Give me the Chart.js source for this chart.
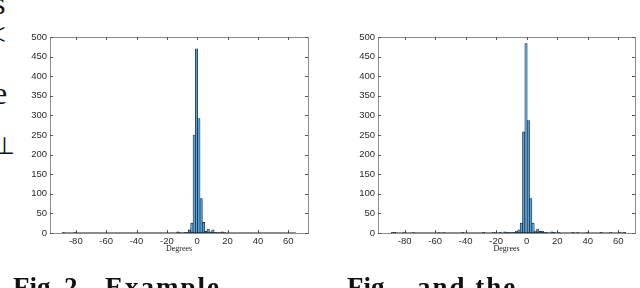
<!DOCTYPE html>
<html>
<head>
<meta charset="utf-8">
<title>Degree histograms</title>
<script src="https://cdn.jsdelivr.net/npm/chart.js@4.4.1/dist/chart.umd.min.js"></script>
<style>
    html, body { margin: 0; padding: 0; background: #fff; }
    #page { position: relative; width: 640px; height: 288px; overflow: hidden; }
    canvas { position: absolute; top: 0; }
    .frag { position: absolute; font-family: "Liberation Serif", serif; font-size: 32px; line-height: 32px; color: #111; }
    .cap { position: absolute; top: 274px; font-family: "Liberation Serif", serif; font-weight: bold; font-size: 27px; line-height: 27px; color: #111; white-space: nowrap; }
</style>
</head>
<body>
<div id="page">
    <span class="frag" style="left:-7px;top:-13px">s</span>
    <span class="frag" style="left:-12px;top:18px">&lt;</span>
    <span class="frag" style="left:-7px;top:77px">e</span>
    <span class="frag" style="left:-6px;top:130px;font-size:24px">&#8869;</span>

    <canvas id="left-hist" width="320" height="288" style="left:0"></canvas>
    <canvas id="right-hist" width="320" height="288" style="left:320px"></canvas>

    <span class="cap" style="left:13px">Fig. 2.</span>
    <span class="cap" style="left:105px;letter-spacing:2px">Example</span>
    <span class="cap" style="left:347px">Fig.</span>
    <span class="cap" style="left:417px;letter-spacing:2px">and the</span>
</div>

<script>
// 
// Histogram bins (centres, degrees) and counts.
// Only non-empty bins are listed, the data covers binStart to binEnd.
// 
var binStart = -89, binEnd = 65;

var leftDegrees = [-88.23, -80.53, -12.77, -11.23, -8.15, -6.61, -5.07, -3.53,
    -1.99, -0.45, 1.09, 2.63, 4.17, 5.71, 7.25, 8.79, 10.33, 11.87, 13.41,
    14.95, 16.49, 18.03];
var leftCounts = [1, 1, 3, 1, 2, 2, 8, 25,
    250, 470, 292, 88, 27, 4, 10, 3, 8, 2, 1,
    1, 3, 1];

var rightDegrees = [-88.23, -86.69, -80.53, -74.37, -57.43, -54.35, -42.03,
    -28.17, -22.01, -20.47, -17.39, -14.31, -12.77, -11.23, -9.69, -8.15,
    -6.61, -5.07, -3.53, -1.99, -0.45, 1.09, 2.63, 4.17, 5.71, 7.25, 8.79,
    10.33, 11.87, 13.41, 16.49, 18.03, 21.11, 30.35, 33.43, 39.59, 48.83,
    54.99, 61.15, 64.23];
var rightCounts = [1, 2, 1, 1, 1, 1, 1,
    2, 1, 1, 2, 3, 2, 1, 1, 2,
    5, 8, 25, 258, 483, 287, 88, 25, 5, 10, 4,
    5, 2, 1, 3, 2, 1, 2, 1, 1, 2,
    1, 1, 2];

var xTicks = [-80, -60, -40, -20, 0, 20, 40, 60];
var yTicks = [0, 50, 100, 150, 200, 250, 300, 350, 400, 450, 500];

// 
// Axes box with inward tick marks on all four sides (matlab style).
// 
var axesBox = {
    id: 'axesBox',
    beforeDatasetsDraw: function (chart) {
        var ctx = chart.ctx, a = chart.chartArea;
        var xs = chart.scales.x, ys = chart.scales.y;
        var len = 3;

        ctx.save();
        ctx.strokeStyle = '#8c8c8c';
        ctx.lineWidth = 1;
        ctx.strokeRect(Math.round(a.left) + 0.5, Math.round(a.top) + 0.5,
                Math.round(a.width), Math.round(a.height));

        ctx.strokeStyle = '#555';
        ctx.beginPath();
        xs.ticks.forEach(function (t) {
            var px = Math.round(xs.getPixelForValue(t.value)) + 0.5;
            ctx.moveTo(px, a.top);
            ctx.lineTo(px, a.top + len);
            ctx.moveTo(px, a.bottom);
            ctx.lineTo(px, a.bottom - len);
        });
        ys.ticks.forEach(function (t) {
            var py = Math.round(ys.getPixelForValue(t.value)) + 0.5;
            ctx.moveTo(a.left, py);
            ctx.lineTo(a.left + len, py);
            ctx.moveTo(a.right, py);
            ctx.lineTo(a.right - len, py);
        });
        ctx.stroke();
        ctx.restore();
    }
};

function toPoints(degrees, counts) {
    var pts = [];
    for (var i = 0; i < degrees.length; ++i) {
        pts.push({x: degrees[i], y: counts[i]});
    }
    return pts;
}

function drawHistogram(id, degrees, counts, xMin, xMax, padLeft, padRight) {
    var tickFont = {family: '"Liberation Sans", Arial, sans-serif', size: 9.5};

    return new Chart(document.getElementById(id), {
        type: 'bar',
        data: {
            datasets: [
                {
                    type: 'line',
                    data: [{x: binStart, y: 0}, {x: binEnd, y: 0}],
                    borderColor: '#1a1a1a',
                    borderWidth: 1.2,
                    pointRadius: 0
                },
                {
                    data: toPoints(degrees, counts),
                    backgroundColor: 'rgb(84,160,216)',
                    borderColor: '#141414',
                    borderWidth: 0.6,
                    borderSkipped: false,
                    barPercentage: 1,
                    categoryPercentage: 1
                }
            ]
        },
        options: {
            responsive: false,
            animation: false,
            layout: {
                padding: {left: padLeft, right: padRight, top: 37, bottom: 33}
            },
            plugins: {
                legend: {display: false},
                tooltip: {enabled: false}
            },
            scales: {
                x: {
                    type: 'linear',
                    min: xMin,
                    max: xMax,
                    offset: false,
                    grid: {display: false, drawTicks: false},
                    border: {display: false},
                    afterBuildTicks: function (scale) {
                        scale.ticks = xTicks.map(function (v) { return {value: v}; });
                    },
                    afterFit: function (scale) {
                        scale.height = 22;
                    },
                    ticks: {
                        font: tickFont,
                        color: '#2a2a2a',
                        padding: 3,
                        maxRotation: 0,
                        autoSkip: false
                    },
                    title: {
                        display: true,
                        text: 'Degrees',
                        color: '#222',
                        font: {family: '"Liberation Serif", serif', size: 8},
                        padding: {top: 0, bottom: 1}
                    }
                },
                y: {
                    min: 0,
                    max: 500,
                    grid: {display: false, drawTicks: false},
                    border: {display: false},
                    afterBuildTicks: function (scale) {
                        scale.ticks = yTicks.map(function (v) { return {value: v}; });
                    },
                    afterFit: function (scale) {
                        scale.width = 22;
                    },
                    ticks: {
                        font: tickFont,
                        color: '#2a2a2a',
                        padding: 3
                    }
                }
            }
        },
        plugins: [axesBox]
    });
}

drawHistogram('left-hist', leftDegrees, leftCounts, -97, 73, 28, 12);
drawHistogram('right-hist', rightDegrees, rightCounts, -97.5, 71, 36, 5);
</script>
</body>
</html>
